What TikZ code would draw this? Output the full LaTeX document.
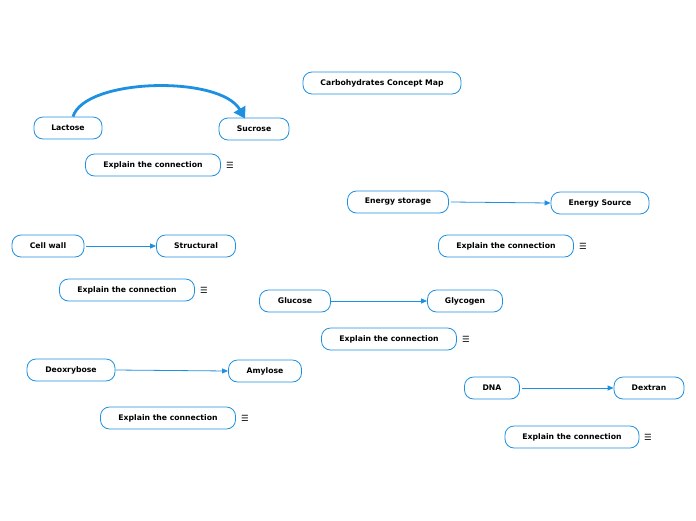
\documentclass[tikz,border=0pt]{standalone}
\usepackage{fontspec}
\setmainfont{DejaVu Sans}
\usetikzlibrary{arrows.meta}
\definecolor{mmblue}{RGB}{30,144,226}
\begin{document}
\begin{tikzpicture}[x=1pt,y=-1pt,
  box/.style={draw=mmblue,line width=0.8pt,rounded corners=9pt,minimum height=22pt,
    inner sep=0pt,font=\fontsize{7.7}{8}\selectfont\bfseries,fill=white},
  conn/.style={draw=mmblue,line width=0.8pt,-{Triangle[length=6pt,width=5pt]}},
  menu/.style={font=\fontsize{8.5}{9}\selectfont,inner sep=0pt}]
\useasboundingbox (0,0) rectangle (696,520);
\node[box,minimum width=158pt] (title) at (382,83) {Carbohydrates Concept Map};
\node[box,minimum width=68pt] (lac) at (68,128) {Lactose};
\node[box,minimum width=70pt] (suc) at (254,129) {Sucrose};
\node[box,minimum width=135pt] (e1) at (153,165) {Explain the connection};
\node[menu] (m1) at (230,165) {☰};
\node[box,minimum width=101pt] (es) at (398,202) {Energy storage};
\node[box,minimum width=98pt] (eso) at (600,203) {Energy Source};
\node[box,minimum width=135pt] (e2) at (506,246) {Explain the connection};
\node[menu] (m2) at (583,246) {☰};
\node[box,minimum width=72pt] (cw) at (48,246) {Cell wall};
\node[box,minimum width=79pt] (st) at (196,246) {Structural};
\node[box,minimum width=135pt] (e3) at (127,290) {Explain the connection};
\node[menu] (m3) at (204,290) {☰};
\node[box,minimum width=71pt] (glu) at (295,301) {Glucose};
\node[box,minimum width=75pt] (gly) at (465,301) {Glycogen};
\node[box,minimum width=135pt] (e4) at (389,339) {Explain the connection};
\node[menu] (m4) at (466,339) {☰};
\node[box,minimum width=88pt] (deo) at (71,370) {Deoxrybose};
\node[box,minimum width=73pt] (amy) at (265,371) {Amylose};
\node[box,minimum width=135pt] (e5) at (168,418) {Explain the connection};
\node[menu] (m5) at (245,418) {☰};
\node[box,minimum width=55pt] (dna) at (492,388) {DNA};
\node[box,minimum width=70pt] (dex) at (649,388) {Dextran};
\node[box,minimum width=134pt] (e6) at (572,437) {Explain the connection};
\node[menu] (m6) at (648,437) {☰};
\coordinate (ls) at ([xshift=5pt]lac.north);
\coordinate (se) at ([xshift=-9pt,yshift=-1pt]suc.north);
\draw[draw=mmblue,line width=2.8pt,-{Triangle[length=11pt,width=13pt]}]
  (ls) .. controls (85,78) and (220,75) .. (se);
\draw[conn] ([xshift=2pt]es.east) -- (eso.west);
\draw[conn] ([xshift=2pt]cw.east) -- (st.west);
\draw[conn] (glu.east) -- (gly.west);
\draw[conn] (deo.east) -- (amy.west);
\draw[conn] ([xshift=2pt]dna.east) -- (dex.west);
\end{tikzpicture}
\end{document}
